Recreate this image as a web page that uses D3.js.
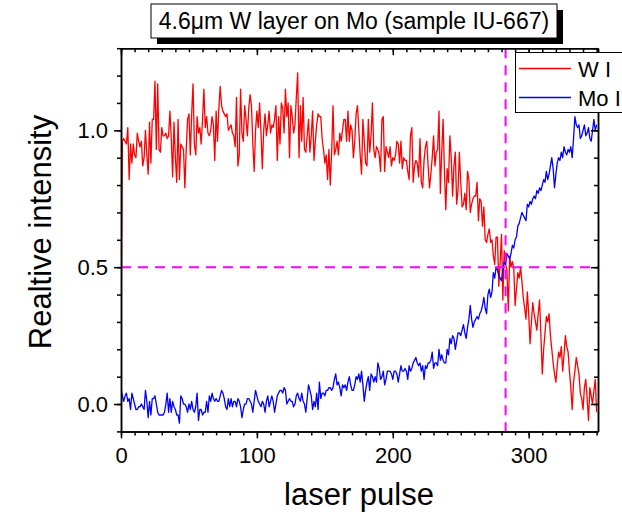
<!DOCTYPE html>
<html>
<head>
<meta charset="utf-8">
<script src="https://cdn.jsdelivr.net/npm/d3@7/dist/d3.min.js"></script>
<style>
body{margin:0;background:#fff;}
text{font-family:Arial,'Liberation Sans',sans-serif;fill:#000;}
.axis path,.axis line{stroke:#000;stroke-width:1.5;}
</style>
</head>
<body>
<div id="plot"></div>
<script>
/* W I and Mo I intensities, one value per laser pulse (0..350) */
var wI = [
0.22,0.96,0.97,0.96,0.95,1.01,0.82,0.95,0.88,0.95,0.91,0.90,0.99,0.96,0.94,0.96,0.87,0.90,1.00,0.91,
0.84,1.03,0.88,1.04,1.04,1.18,0.93,1.17,0.93,0.92,1.01,0.98,0.98,0.99,0.97,0.98,1.07,0.97,0.83,1.03,
0.90,0.81,1.04,0.82,0.95,0.94,0.93,0.79,0.93,1.04,1.06,0.91,1.06,1.17,0.95,0.91,1.05,0.99,1.01,0.95,
1.04,1.15,1.01,1.05,0.99,0.98,1.00,1.05,1.02,0.89,1.07,0.96,1.08,1.16,1.09,1.07,1.06,1.05,1.06,1.00,
1.01,1.02,0.99,0.98,0.94,1.12,0.87,0.91,1.15,0.99,0.96,1.09,1.04,0.98,1.08,1.13,1.09,0.95,0.85,1.00,
1.07,1.01,1.10,0.99,0.86,1.00,1.06,0.98,1.02,1.07,0.99,1.02,1.01,1.04,1.09,0.89,1.05,0.95,1.10,1.08,
0.99,1.15,1.05,1.10,0.90,1.09,1.05,0.99,1.02,1.12,1.21,0.90,1.09,0.96,1.12,0.93,0.92,0.98,1.04,0.92,
0.98,1.07,0.89,0.96,1.02,1.06,1.05,1.05,0.97,0.93,0.88,0.91,0.82,0.93,0.80,0.92,1.09,0.91,0.93,0.96,
0.91,0.99,0.96,1.00,1.04,1.04,0.96,1.07,0.96,1.02,1.00,0.90,0.96,1.06,1.09,1.00,0.91,0.84,1.04,0.96,
0.88,0.87,1.04,0.92,0.98,1.10,0.93,0.90,0.94,0.93,0.91,0.85,1.04,1.05,0.85,0.94,0.92,0.90,0.94,0.87,
0.90,0.89,0.91,0.96,0.95,0.88,0.96,0.86,0.90,0.89,0.89,0.85,0.82,0.98,1.01,0.81,0.87,0.89,0.88,0.83,
0.97,0.81,0.79,0.89,0.94,0.96,0.87,0.79,0.84,0.90,0.98,0.87,0.92,0.93,1.07,0.77,0.92,1.04,0.85,0.71,
0.86,0.81,0.98,0.90,0.76,0.87,0.92,0.73,0.78,0.92,0.81,0.72,0.73,0.77,0.71,0.85,0.82,0.70,0.73,0.75,
0.76,0.76,0.81,0.67,0.75,0.74,0.65,0.72,0.60,0.59,0.62,0.64,0.59,0.60,0.54,0.51,0.61,0.61,0.43,0.52,
0.62,0.38,0.56,0.51,0.49,0.34,0.54,0.50,0.52,0.50,0.36,0.42,0.48,0.46,0.50,0.45,0.39,0.35,0.31,0.41,
0.33,0.22,0.30,0.37,0.33,0.30,0.27,0.33,0.38,0.25,0.11,0.20,0.26,0.32,0.30,0.33,0.25,0.20,0.15,0.11,
0.08,0.14,0.19,0.17,0.21,0.12,0.18,0.25,0.21,0.19,0.12,0.06,-0.02,0.08,0.12,0.17,0.14,0.11,0.04,0.02,
-0.02,0.06,0.09,0.02,-0.06,0.06,0.03,0.00,0.05,0.09,-0.03
];
var moI = [
0.06,0.03,0.01,0.03,0.04,0.01,0.02,-0.02,0.04,0.02,0.00,-0.02,-0.02,-0.01,-0.01,0.00,-0.01,-0.02,0.05,0.01,
-0.05,0.01,-0.04,0.02,0.02,0.03,0.00,-0.03,-0.04,-0.04,-0.04,-0.04,-0.03,0.00,0.04,-0.03,0.02,-0.03,0.01,-0.01,
-0.02,-0.04,-0.04,-0.07,0.03,0.02,0.00,0.00,-0.01,-0.03,0.00,-0.02,0.01,-0.02,-0.03,-0.01,0.04,-0.06,-0.02,-0.02,
-0.04,-0.03,-0.03,0.01,-0.03,0.03,0.01,0.04,0.02,0.01,0.02,0.01,0.01,0.03,0.05,0.04,0.02,-0.01,-0.02,0.02,
-0.01,0.02,-0.01,0.01,0.01,-0.01,0.02,0.01,-0.01,-0.05,-0.02,0.00,0.00,0.02,0.02,0.01,0.00,-0.03,0.01,0.05,
0.03,0.01,0.00,-0.01,0.01,0.00,-0.03,0.01,0.03,-0.01,0.01,0.03,0.01,-0.03,0.00,0.03,0.04,0.05,0.05,0.04,
0.06,0.05,0.00,0.01,0.02,0.01,0.01,-0.01,0.00,0.03,0.04,0.02,0.01,0.04,0.01,0.00,-0.03,0.02,0.07,0.05,
0.03,-0.02,0.01,-0.01,0.04,-0.02,0.08,0.02,0.04,0.04,0.03,0.05,0.05,0.06,0.06,0.05,0.06,0.09,0.11,0.07,
0.08,0.06,0.03,0.07,0.06,0.07,0.05,0.08,0.10,0.07,0.05,0.05,0.07,0.10,0.09,0.11,0.08,0.12,0.07,0.01,
0.05,0.08,0.10,0.05,0.11,0.10,0.08,0.10,0.08,0.15,0.13,0.09,0.10,0.12,0.07,0.09,0.12,0.12,0.12,0.11,
0.09,0.12,0.12,0.11,0.08,0.11,0.14,0.12,0.12,0.13,0.12,0.09,0.14,0.12,0.13,0.15,0.16,0.17,0.15,0.14,
0.15,0.12,0.14,0.09,0.14,0.13,0.15,0.15,0.16,0.19,0.13,0.15,0.15,0.14,0.20,0.16,0.18,0.16,0.15,0.15,
0.20,0.18,0.24,0.22,0.25,0.24,0.20,0.23,0.26,0.26,0.25,0.27,0.29,0.26,0.24,0.28,0.31,0.36,0.31,0.28,
0.30,0.31,0.32,0.31,0.33,0.34,0.36,0.39,0.35,0.33,0.40,0.42,0.39,0.41,0.48,0.46,0.50,0.49,0.47,0.46,
0.45,0.49,0.52,0.51,0.55,0.54,0.53,0.55,0.58,0.57,0.60,0.61,0.65,0.66,0.68,0.70,0.69,0.68,0.67,0.73,
0.72,0.74,0.73,0.75,0.76,0.75,0.78,0.77,0.79,0.78,0.80,0.82,0.81,0.85,0.82,0.84,0.87,0.90,0.86,0.79,
0.84,0.88,0.90,0.89,0.92,0.90,0.94,0.92,0.91,0.93,0.92,0.94,0.90,0.97,1.05,1.02,1.01,1.02,0.97,0.98,
1.00,1.02,0.98,0.99,1.01,0.97,0.96,1.00,1.04,1.00,1.02
];
var pulses = d3.range(wI.length);

var seriesNames = ['W I','Mo I'];
var seriesColors = ['#ff0000','#0000ff'];
var xMajor = [0,100,200,300];
var yMajor = [0,0.5,1.0];
var refLevel = 0.5;
var refPulse = 283;
var titleText = '4.6\u03bcm W layer on Mo (sample IU-667)';

/* canvas and scales */
var svg = d3.select('#plot')
    .append('svg')
    .attr('width',622)
    .attr('height',516);

var pl = 121, pr = 598, pt = 48.2, pb = 431.4;

var x = d3.scaleLinear().domain([0,351]).range([pl,pr]);
var y = d3.scaleLinear().domain([-0.1,1.3]).range([pb,pt]);

svg.append('clipPath').attr('id','clip')
    .append('rect')
    .attr('x',pl).attr('y',pt)
    .attr('width',pr-pl).attr('height',pb-pt);

/* data lines */
var line = d3.line()
    .x(function(d,i){return x(pulses[i])})
    .y(function(d){return y(d)});

var plot = svg.append('g').attr('clip-path','url(#clip)');

[wI,moI].forEach(function(s,k){
    plot.append('path')
        .datum(s)
        .attr('d',line)
        .attr('fill','none')
        .attr('stroke',seriesColors[k])
        .attr('stroke-width',1.3)
        .attr('stroke-linejoin','round');
});

/* magenta reference lines */
plot.append('line')
    .attr('x1',pl).attr('x2',pr)
    .attr('y1',y(refLevel)).attr('y2',y(refLevel))
    .attr('stroke','#ff00ff').attr('stroke-width',2).attr('stroke-dasharray','10,7');
plot.append('line')
    .attr('x1',x(refPulse)).attr('x2',x(refPulse))
    .attr('y1',pt).attr('y2',pb)
    .attr('stroke','#ff00ff').attr('stroke-width',2).attr('stroke-dasharray','10,7');

/* axes */
var xMinor = d3.range(0,351,10), yMinor = d3.range(-0.1,1.31,0.1);

function addAxis(ax, tr){
    return svg.append('g').attr('class','axis').attr('transform',tr).call(ax);
}

addAxis(d3.axisBottom(x).tickValues(xMinor).tickSize(4).tickSizeOuter(0).tickFormat(''),'translate(0,'+pb+')');
addAxis(d3.axisBottom(x).tickValues(xMajor).tickSize(7).tickSizeOuter(0).tickPadding(9),'translate(0,'+pb+')');
addAxis(d3.axisTop(x).tickValues(xMinor).tickSize(-4).tickSizeOuter(0).tickFormat(''),'translate(0,'+pt+')');
addAxis(d3.axisTop(x).tickValues(xMajor).tickSize(-7).tickSizeOuter(0).tickFormat(''),'translate(0,'+pt+')');

addAxis(d3.axisLeft(y).tickValues(yMinor).tickSize(4).tickSizeOuter(0).tickFormat(''),'translate('+pl+',0)');
addAxis(d3.axisLeft(y).tickValues(yMajor).tickSize(7).tickSizeOuter(0).tickPadding(6).tickFormat(d3.format('.1f')),'translate('+pl+',0)');
addAxis(d3.axisRight(y).tickValues(yMinor).tickSize(-4).tickSizeOuter(0).tickFormat(''),'translate('+pr+',0)');
addAxis(d3.axisRight(y).tickValues(yMajor).tickSize(-7).tickSizeOuter(0).tickFormat(''),'translate('+pr+',0)');

svg.selectAll('.axis text').attr('font-size',22).attr('font-family','Arial, Liberation Sans, sans-serif').attr('fill','#000');

/* axis titles */
svg.append('text')
    .attr('x',359).attr('y',505)
    .attr('text-anchor','middle')
    .attr('font-size',31)
    .text('laser pulse');

svg.append('text')
    .attr('transform','translate(51,232) rotate(-90)')
    .attr('text-anchor','middle')
    .attr('font-size',31)
    .text('Realtive intensity');

/* title box with shadow */
svg.append('rect').attr('x',157).attr('y',10).attr('width',406).attr('height',34).attr('fill','#000');
svg.append('rect').attr('x',151).attr('y',4).attr('width',406).attr('height',34)
    .attr('fill','#fff').attr('stroke','#000').attr('stroke-width',1);
svg.append('text')
    .attr('x',354).attr('y',29)
    .attr('text-anchor','middle')
    .attr('font-size',23)
    .text(titleText);

/* legend */
var legend = svg.append('g');
legend.append('rect')
    .attr('x',515.5).attr('y',52.5).attr('width',120).attr('height',60)
    .attr('fill','#fff').attr('stroke','#000').attr('stroke-width',1);

seriesNames.forEach(function(n,k){
    var ly = 68.5 + k*29;
    legend.append('line')
        .attr('x1',519).attr('x2',571)
        .attr('y1',ly).attr('y2',ly)
        .attr('stroke',seriesColors[k]).attr('stroke-width',1.3);
    legend.append('text')
        .attr('x',578).attr('y',ly+8)
        .attr('font-size',22)
        .text(n);
});
</script>
</body>
</html>
